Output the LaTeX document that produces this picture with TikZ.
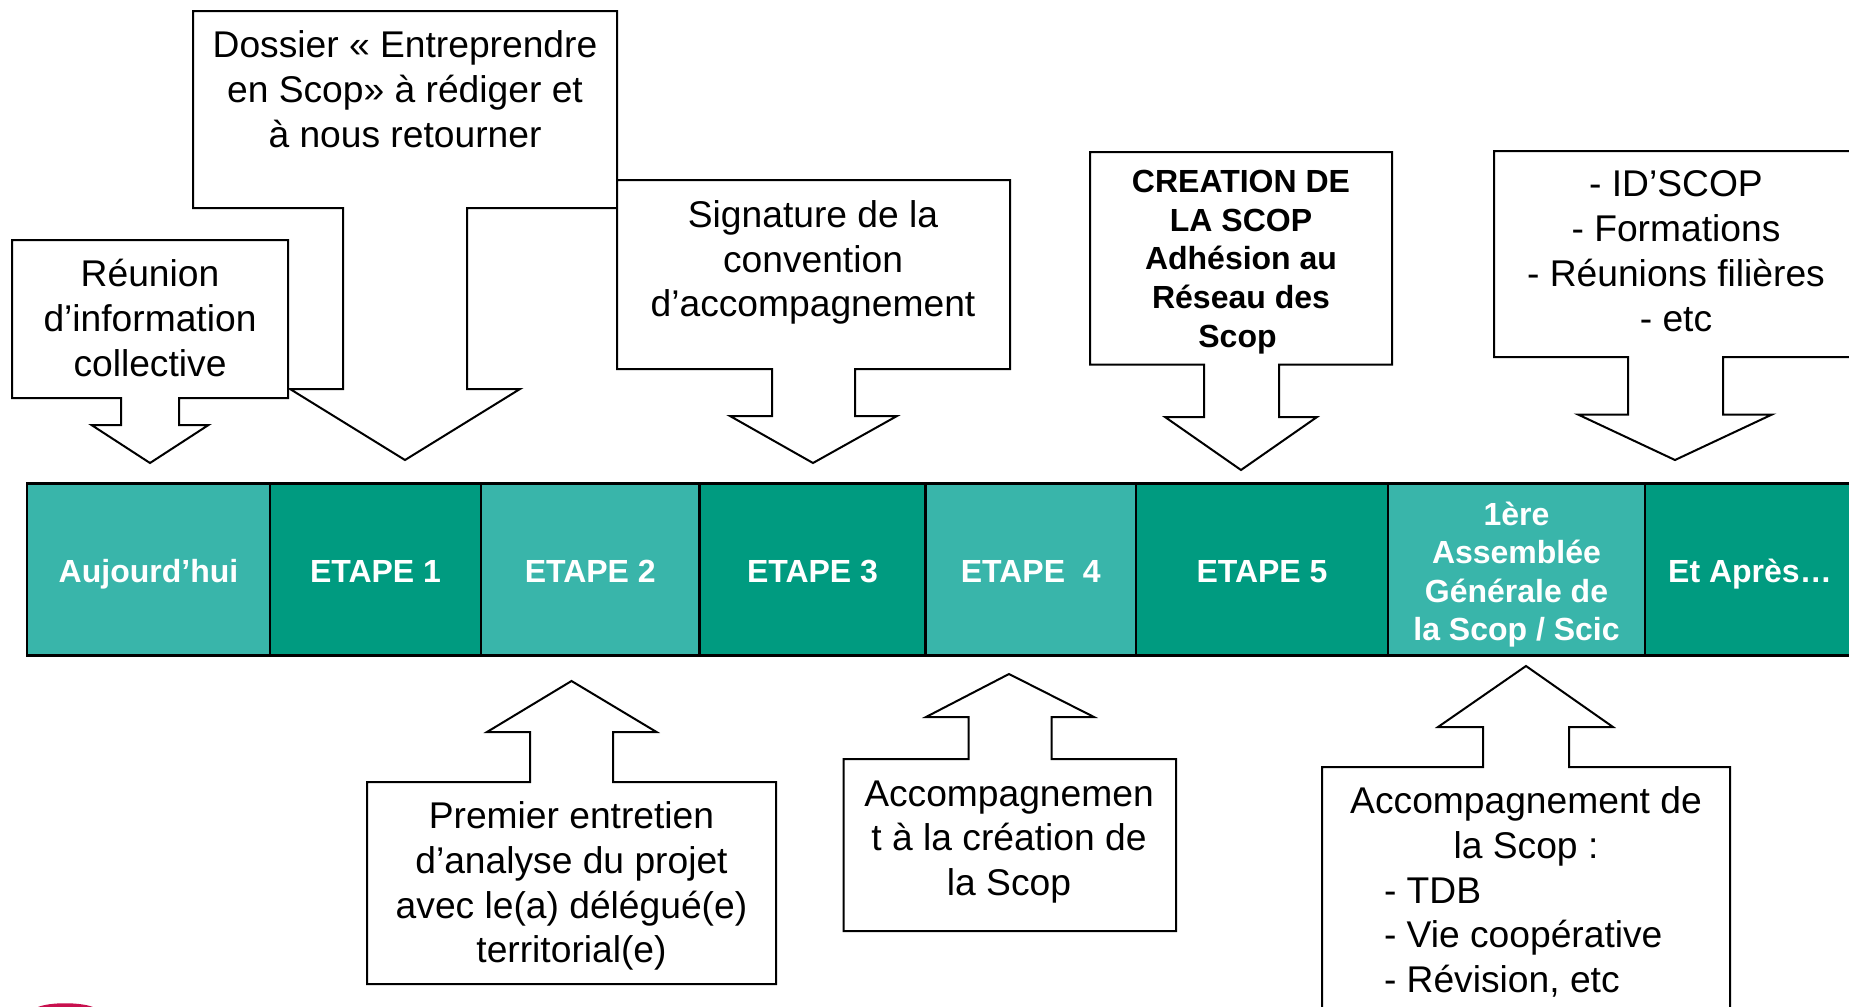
\documentclass[tikz,border=0pt]{standalone}
\usepackage{fontspec}
\setmainfont{Liberation Sans}
\usepackage{xcolor}
\usetikzlibrary{positioning}

\definecolor{tealdark}{RGB}{0,155,128}
\definecolor{teallight}{RGB}{57,181,170}
\definecolor{logored}{RGB}{200,16,78}

\begin{document}
\begin{tikzpicture}[x=0.5pt, y=-0.5pt, node distance=0pt and 0pt,
    callout/.style={draw=black, fill=white, line width=1pt, line join=miter},
    calltext/.style={font=\fontsize{18.6}{22.4}\selectfont, align=center, inner sep=0pt},
    boldtext/.style={font=\fontsize{16}{19.3}\selectfont\bfseries, align=center, inner sep=0pt},
    barcell/.style={draw=black, line width=1.4pt, outer sep=0pt, inner sep=0pt, minimum height=86pt,
      text=white, align=center, font=\fontsize{16}{19.3}\selectfont\bfseries},
    barone/.style={barcell, text height=12.8pt, text depth=0pt}]

  \useasboundingbox (0,0) rectangle (1849,1007);

  % Callouts above the bar
  \draw[callout] (193,11) -- (617,11) -- (617,208) -- (467,208) -- (467,389) -- (520,389) -- (405,460)
    -- (290,389) -- (343,389) -- (343,208) -- (193,208) -- cycle;
  \draw[callout] (12,240) -- (288,240) -- (288,398) -- (179,398) -- (179,425) -- (208.5,425) -- (150,463)
    -- (91.5,425) -- (121,425) -- (121,398) -- (12,398) -- cycle;
  \draw[callout] (617,180) -- (1010,180) -- (1010,369) -- (855,369) -- (855,416) -- (897,416) -- (813,463)
    -- (730,416) -- (772,416) -- (772,369) -- (617,369) -- cycle;
  \draw[callout] (1090,152) -- (1392,152) -- (1392,364.5) -- (1279,364.5) -- (1279,417) -- (1317,417) -- (1241,470)
    -- (1165,417) -- (1204,417) -- (1204,364.5) -- (1090,364.5) -- cycle;
  \draw[callout] (1849,151) -- (1494,151) -- (1494,357) -- (1628,357) -- (1628,414.5) -- (1578,414.5) -- (1675,460)
    -- (1772,414.5) -- (1723,414.5) -- (1723,357) -- (1849,357);

  \node (dossier) [calltext] at (405,89.5) {Dossier « Entreprendre\\en Scop» à rédiger et\\à nous retourner};
  \node (reunion) [calltext] at (150,318) {Réunion\\d’information\\collective};
  \node (signature) [calltext] at (813,262.5) {Signature de la\\convention\\d’accompagnement};
  \node (creation) [boldtext] at (1241,262) {CREATION DE\\LA SCOP\\Adhésion au\\Réseau des\\Scop\hspace*{3.5pt}};
  \node (idscop) [calltext] at (1676,251) {- ID’SCOP\\- Formations\\- Réunions filières\\- etc};

  % Timeline
  \node (today) [barone, fill=teallight, minimum width=121.5pt] at (148.5,569.75) {Aujourd’hui};
  \node (etape1) [barone, fill=tealdark, minimum width=105.5pt, right=of today] {ETAPE 1};
  \node (etape2) [barone, fill=teallight, minimum width=109.25pt, right=of etape1] {ETAPE 2};
  \node (etape3) [barone, fill=tealdark, minimum width=113pt, right=of etape2] {ETAPE 3};
  \node (etape4) [barone, fill=teallight, minimum width=105.25pt, right=of etape3] {ETAPE~~4};
  \node (etape5) [barone, fill=tealdark, minimum width=126pt, right=of etape4] {ETAPE 5};
  \node (assembly) [barcell, fill=teallight, minimum width=128.5pt, right=of etape5] {\rule{0pt}{16.5pt}1ère\\Assemblée\\Générale de\\la Scop / Scic};
  \node (after) [barone, fill=tealdark, minimum width=105pt, right=of assembly] {Et Après…};

  % Callouts below the bar
  \draw[callout] (367,782) -- (530,782) -- (530,732) -- (487,732) -- (571.5,681) -- (656.5,732) -- (613,732)
    -- (613,782) -- (776,782) -- (776,984) -- (367,984) -- cycle;
  \draw[callout] (843.5,759) -- (968.5,759) -- (968.5,717) -- (926,717) -- (1009,674) -- (1094,717) -- (1051.5,717)
    -- (1051.5,759) -- (1176,759) -- (1176,931) -- (843.5,931) -- cycle;
  \draw[callout] (1322,1007) -- (1322,767) -- (1483,767) -- (1483,727) -- (1438,727) -- (1526,666) -- (1613,727)
    -- (1569,727) -- (1569,767) -- (1730,767) -- (1730,1007);

  \node (premier) [calltext] at (571.5,886) {Premier entretien\\d’analyse du projet\\avec le(a) délégué(e)\\territorial(e)};
  \node (accomp) [calltext] at (1009,842) {Accompagnemen\\t à la création de\\la Scop};
  \node (suivi) [calltext] at (1526,892) {Accompagnement de\\la Scop :\\\makebox[142pt][l]{- TDB}\\\makebox[142pt][l]{- Vie coopérative}\\\makebox[142pt][l]{- Révision, etc}};

  % Logo cut by the page edge
  \fill[logored] (38,1007) .. controls (50,1002) and (80,1002) .. (93,1007) -- cycle;

\end{tikzpicture}
\end{document}
